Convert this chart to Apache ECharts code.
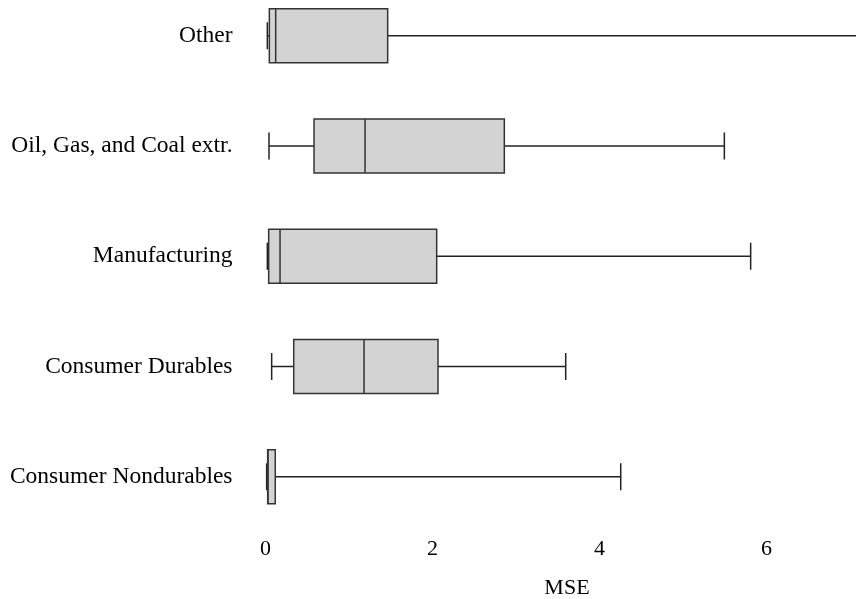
<!DOCTYPE html>
<html>
<head>
<meta charset="utf-8">
<script src="https://cdn.jsdelivr.net/npm/echarts@6/dist/echarts.min.js"></script>
<style>
  html, body { margin: 0; padding: 0; background: #fff; }
  #chart { width: 856px; height: 599px; }
</style>
</head>
<body>
<div id="chart"></div>
<script>
// Industry groups, top to bottom
const categories = ['Other', 'Oil, Gas, and Coal extr.', 'Manufacturing', 'Consumer Durables', 'Consumer Nondurables'];
// Box-plot statistics of MSE per industry
const whiskerLow  = [0.022, 0.042, 0.022, 0.074, 0.014];
const quartile1   = [0.046, 0.581, 0.038, 0.338, 0.026];
const median      = [0.122, 1.192, 0.174, 1.180, 0.030];
const quartile3   = [1.463, 2.860, 2.050, 2.066, 0.117];
const whiskerHigh = [7.600, 5.495, 5.810, 3.595, 4.254];

const data = categories.map((c, i) => [i, whiskerLow[i], quartile1[i], median[i], quartile3[i], whiskerHigh[i]]);

const FONT = '"Liberation Serif", "Times New Roman", serif';

function renderItem(params, api) {
  const c = api.value(0);
  const lo = api.coord([api.value(1), c]);
  const b1 = api.coord([api.value(2), c]);
  const md = api.coord([api.value(3), c]);
  const b3 = api.coord([api.value(4), c]);
  const hi = api.coord([api.value(5), c]);
  const band = api.size([0, 1])[1];
  const h = band * 0.49;
  const cap = h / 2;
  const y = lo[1];
  const lineStyle = { stroke: '#222', lineWidth: 1.5 };
  return {
    type: 'group',
    children: [
      { type: 'line', shape: { x1: lo[0], y1: y, x2: b1[0], y2: y }, style: lineStyle },
      { type: 'line', shape: { x1: b3[0], y1: y, x2: hi[0], y2: y }, style: lineStyle },
      { type: 'line', shape: { x1: lo[0], y1: y - cap / 2, x2: lo[0], y2: y + cap / 2 }, style: lineStyle },
      { type: 'line', shape: { x1: hi[0], y1: y - cap / 2, x2: hi[0], y2: y + cap / 2 }, style: lineStyle },
      { type: 'rect', shape: { x: b1[0], y: y - h / 2, width: b3[0] - b1[0], height: h },
        style: { fill: '#d3d3d3', stroke: '#333', lineWidth: 1.5 } },
      { type: 'line', shape: { x1: md[0], y1: y - h / 2, x2: md[0], y2: y + h / 2 }, style: { stroke: '#333', lineWidth: 1.5 } }
    ]
  };
}

const chart = echarts.init(document.getElementById('chart'), null, { renderer: 'canvas' });
chart.setOption({
  animation: false,
  backgroundColor: '#fff',
  grid: { left: 265.5, right: -12.4, top: -19.4, height: 551.25, containLabel: false, outerBoundsMode: 'none' },
  xAxis: {
    type: 'value',
    min: 0,
    max: 7.22,
    interval: 2,
    name: 'MSE',
    nameLocation: 'middle',
    nameGap: 45,
    nameTextStyle: { fontFamily: FONT, fontSize: 22, color: '#000' },
    axisLine: { show: false },
    axisTick: { show: false },
    splitLine: { show: false },
    axisLabel: { fontFamily: FONT, fontSize: 22, color: '#000', margin: 6, showMaxLabel: false }
  },
  yAxis: {
    type: 'category',
    data: categories,
    inverse: true,
    axisLine: { show: false },
    axisTick: { show: false },
    splitLine: { show: false },
    axisLabel: { fontFamily: FONT, fontSize: 23.5, color: '#000', margin: 33 }
  },
  series: [{
    type: 'custom',
    renderItem: renderItem,
    clip: true,
    encode: { x: [1, 2, 3, 4, 5], y: 0 },
    data: data
  }]
});
</script>
</body>
</html>
